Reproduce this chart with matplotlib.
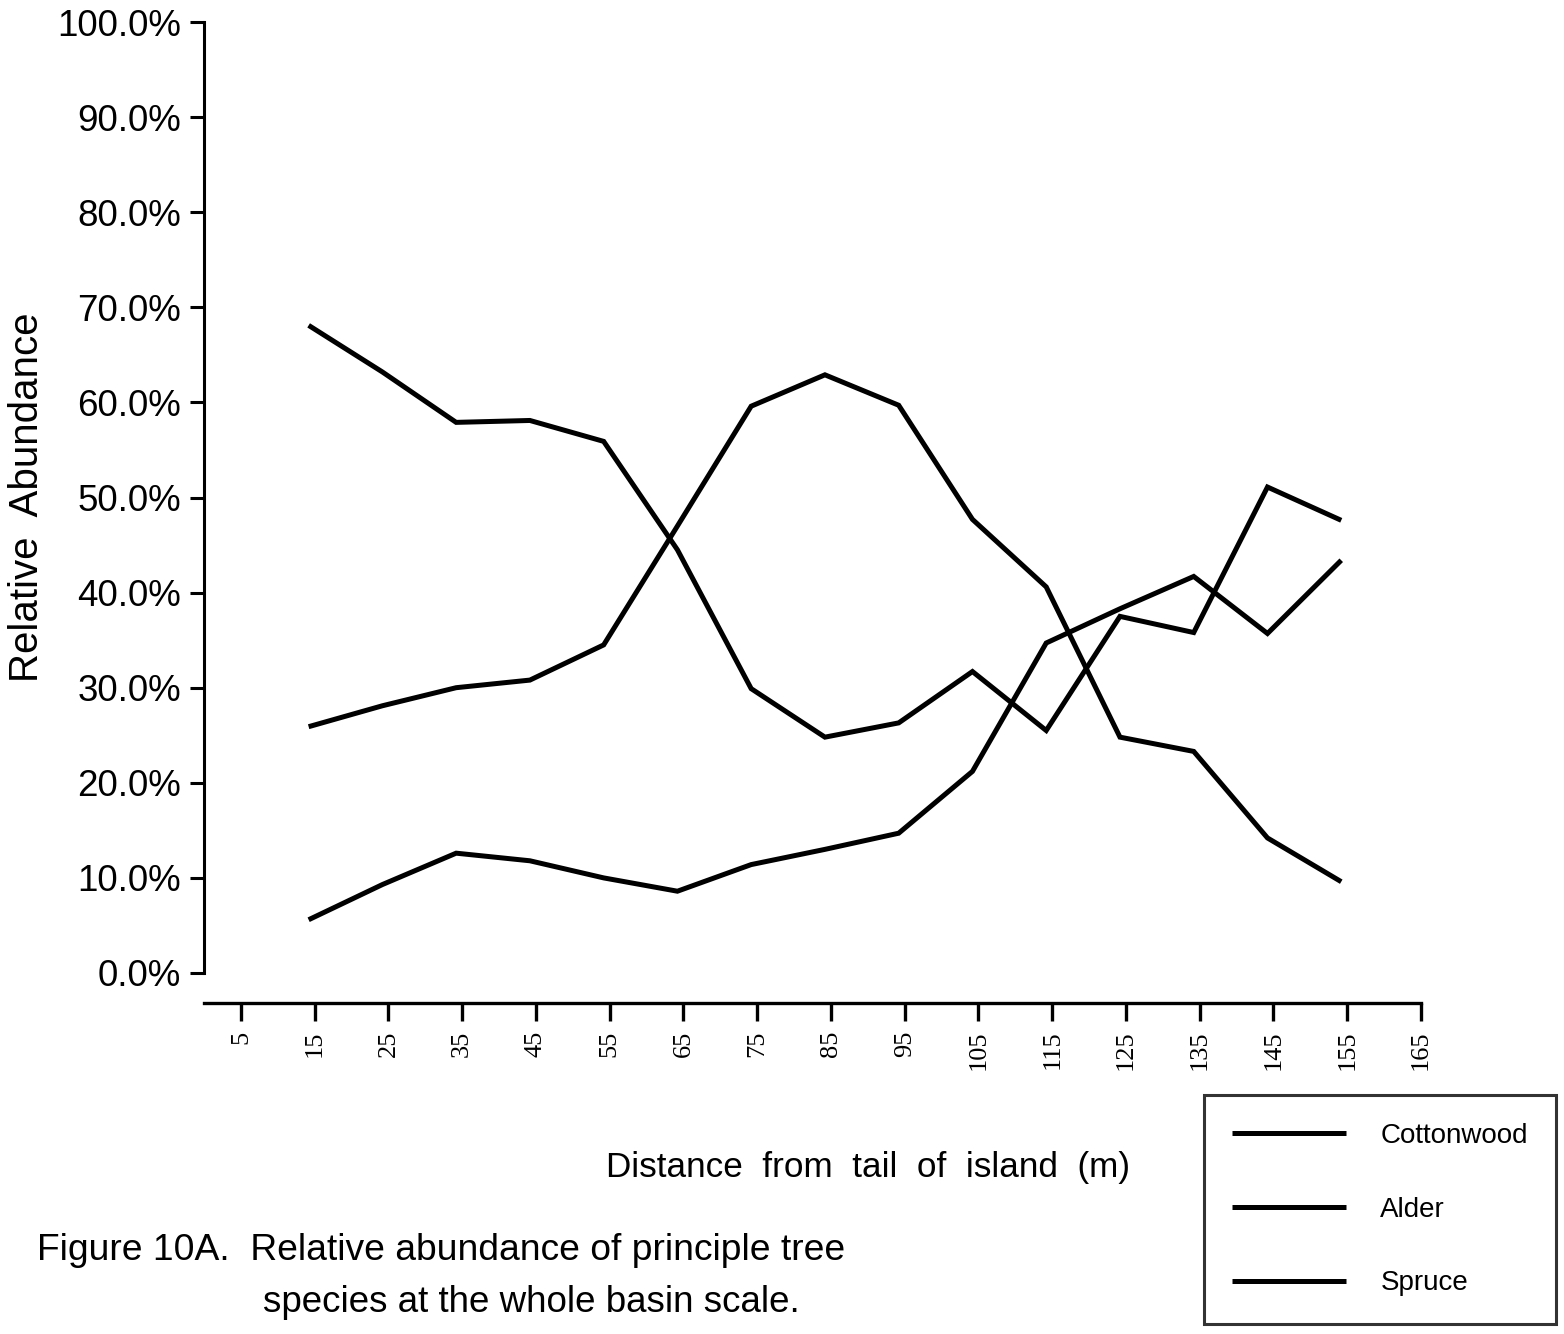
import matplotlib
matplotlib.use("Agg")
import matplotlib.pyplot as plt
from matplotlib.transforms import offset_copy
from matplotlib.ticker import FuncFormatter

# ---- data ----
distance = [15, 25, 35, 45, 55, 65, 75, 85, 95, 105, 115, 125, 135, 145, 155]
cottonwood = [68.1, 63.2, 57.9, 58.1, 55.9, 44.5, 29.9, 24.8, 26.3, 31.7, 25.5, 37.5, 35.8, 51.1, 47.6]
alder = [25.9, 28.1, 30.0, 30.8, 34.5, 47.0, 59.6, 62.9, 59.7, 47.7, 40.6, 24.8, 23.3, 14.2, 9.6]
spruce = [5.6, 9.3, 12.6, 11.8, 10.0, 8.6, 11.4, 13.0, 14.7, 21.2, 34.7, 38.3, 41.7, 35.7, 43.4]
series_names = ["Cottonwood", "Alder", "Spruce"]
x_ticks = [5, 15, 25, 35, 45, 55, 65, 75, 85, 95, 105, 115, 125, 135, 145, 155, 165]
y_ticks = [0, 10, 20, 30, 40, 50, 60, 70, 80, 90, 100]

W, H = 1564, 1334
def fx(px):
    return px / W
def fy(py):
    return 1 - py / H

SANS = "Liberation Sans"
SERIF = "Liberation Serif"

fig = plt.figure(figsize=(W / 100, H / 100), dpi=100)
ax = fig.add_axes([fx(204), fy(973), (1421 - 204) / W, (973 - 22) / H])
ax.set_xlim(0, 165)
ax.set_ylim(0, 100)

tr = offset_copy(ax.transData, fig=fig, x=-6, y=0, units="dots")
handles = []
for vals, name in zip([cottonwood, alder, spruce], series_names):
    (ln,) = ax.plot(distance, vals, color="black", lw=3.6, transform=tr,
                    solid_joinstyle="miter", solid_capstyle="butt", label=name,
                    clip_on=False)
    handles.append(ln)

for s in ["top", "right"]:
    ax.spines[s].set_visible(False)
ax.spines["left"].set_linewidth(2.2)
ax.spines["bottom"].set_linewidth(2.4)
ax.spines["bottom"].set_position(("outward", 21.6))

ax.set_yticks(y_ticks)
ax.yaxis.set_major_formatter(FuncFormatter(lambda v, p: f"{v:.1f}%"))
ax.set_xticks(x_ticks)
ax.set_xticklabels([str(v) for v in x_ticks], rotation=90, fontfamily=SERIF, fontsize=19)
for lab in ax.get_yticklabels():
    lab.set_fontfamily(SANS)
    lab.set_fontsize(26.5)
ax.tick_params(axis="y", direction="out", length=10, width=2.2, pad=6.5)
ax.tick_params(axis="x", direction="out", length=13, width=2.4, pad=7)

fig.text(fx(27), fy(497), "Relative  Abundance", rotation=90, ha="center", va="center",
         fontfamily=SANS, fontsize=29)
fig.text(fx(868), fy(1167), "Distance  from  tail  of  island  (m)", ha="center", va="center",
         fontfamily=SANS, fontsize=25.3)
fig.text(fx(37), fy(1250), "Figure 10A.  Relative abundance of principle tree", ha="left",
         va="center", fontfamily=SANS, fontsize=26.8)
fig.text(fx(263), fy(1302), "species at the whole basin scale.", ha="left",
         va="center", fontfamily=SANS, fontsize=26.5)

leg = ax.legend(handles=handles, loc="upper left", bbox_to_anchor=(fx(1204), fy(1095)),
                bbox_transform=fig.transFigure, prop={"family": SANS, "size": 20},
                frameon=True, fancybox=False, edgecolor="black", borderpad=1.0,
                handlelength=4.1, handletextpad=1.25, labelspacing=1.72,
                borderaxespad=0)
leg.get_frame().set_linewidth(2.2)

fig.savefig("out.png", dpi=100)
